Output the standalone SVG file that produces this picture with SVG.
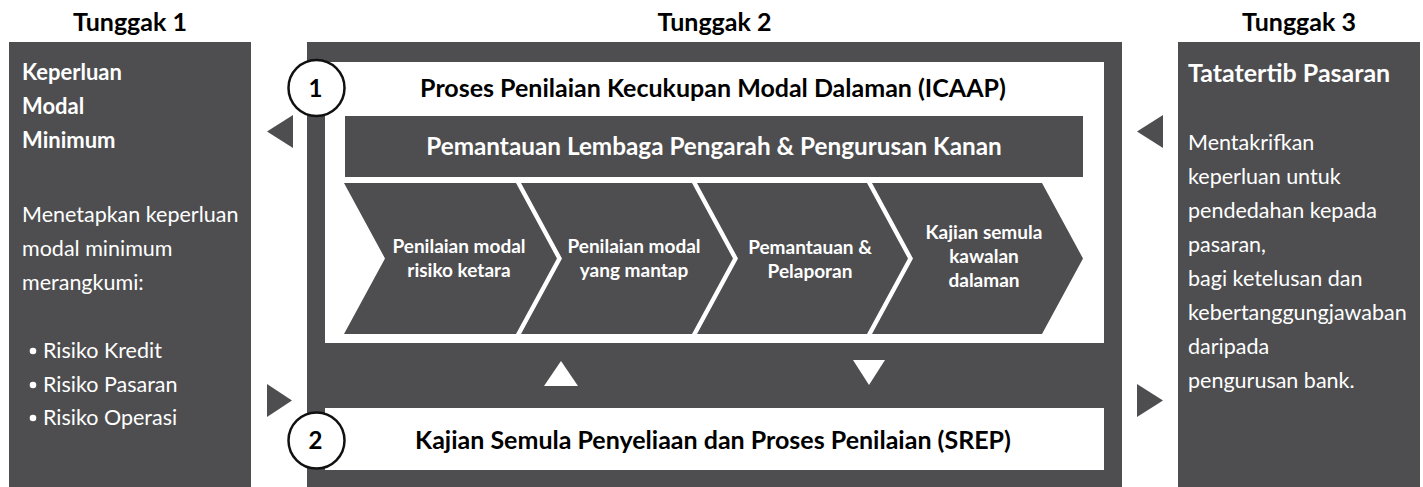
<svg xmlns="http://www.w3.org/2000/svg" width="1423" height="487" viewBox="0 0 1423 487">
  <defs>
    <style>
      .panel { fill: #4e4e50; }
      .box { fill: #ffffff; }
      .title { font-family: Lato, "Liberation Sans", sans-serif; font-weight: 700; font-size: 25px; fill: #000000; text-anchor: middle; }
      .head { font-family: Lato, "Liberation Sans", sans-serif; font-weight: 700; font-size: 22px; fill: #ffffff; }
      .head-wide { font-family: Lato, "Liberation Sans", sans-serif; font-weight: 700; font-size: 25px; fill: #ffffff; }
      .body { font-family: Lato, "Liberation Sans", sans-serif; font-weight: 400; font-size: 21.5px; fill: #ffffff; }
      .boxtitle { font-family: Lato, "Liberation Sans", sans-serif; font-weight: 700; font-size: 25px; fill: #000000; text-anchor: middle; }
      .bartitle { font-family: Lato, "Liberation Sans", sans-serif; font-weight: 700; font-size: 24.3px; fill: #ffffff; text-anchor: middle; }
      .chev { fill: #4e4e50; }
      .chevtext { font-family: Lato, "Liberation Sans", sans-serif; font-weight: 700; font-size: 19px; fill: #ffffff; text-anchor: middle; }
      .badge { fill: #ffffff; stroke: #111111; stroke-width: 2.5; }
      .badgenum { font-family: Lato, "Liberation Sans", sans-serif; font-weight: 700; font-size: 24px; fill: #000000; text-anchor: middle; }
      .arrow { fill: #4e4e50; }
      .arrow-light { fill: #ffffff; }
    </style>
  </defs>

  <rect width="1423" height="487" fill="#ffffff"/>

  <!-- Column headings -->
  <g id="headings">
    <text class="title" x="130" y="31">Tunggak 1</text>
    <text class="title" x="714.5" y="31">Tunggak 2</text>
    <text class="title" x="1299" y="31">Tunggak 3</text>
  </g>

  <!-- Pillar 1: minimum capital requirement -->
  <g id="pillar1">
    <rect class="panel" x="9" y="42" width="242" height="445"/>
    <text class="head" x="22" y="80">Keperluan</text>
    <text class="head" x="22" y="114">Modal</text>
    <text class="head" x="22" y="148">Minimum</text>
    <text class="body" x="22" y="222">Menetapkan keperluan</text>
    <text class="body" x="22" y="256">modal minimum</text>
    <text class="body" x="22" y="290">merangkumi:</text>
    <circle cx="33" cy="351" r="3.3" fill="#ffffff"/>
    <text class="body" x="43" y="358">Risiko Kredit</text>
    <circle cx="33" cy="385" r="3.3" fill="#ffffff"/>
    <text class="body" x="43" y="392">Risiko Pasaran</text>
    <circle cx="33" cy="418" r="3.3" fill="#ffffff"/>
    <text class="body" x="43" y="425">Risiko Operasi</text>
  </g>

  <!-- Pillar 2 frame -->
  <g id="pillar2">
    <rect class="panel" x="307" y="42" width="815" height="445"/>
  </g>

  <!-- ICAAP block -->
  <g id="icaap">
    <rect class="box" x="325" y="62" width="779" height="281"/>
    <text class="boxtitle" x="713" y="97">Proses Penilaian Kecukupan Modal Dalaman (ICAAP)</text>
  </g>

  <g id="oversight">
    <rect class="panel" x="345" y="116" width="738" height="61"/>
    <text class="bartitle" x="714" y="155">Pemantauan Lembaga Pengarah &amp; Pengurusan Kanan</text>
  </g>

  <!-- Process chevrons -->
  <g id="step1">
    <polygon class="chev" points="344,183 516,183 557,258.5 516,334 344,334 385,258.5"/>
    <text class="chevtext" x="459" y="253">Penilaian modal</text>
    <text class="chevtext" x="459" y="277">risiko ketara</text>
  </g>
  <g id="step2">
    <polygon class="chev" points="521,183 692,183 733,258.5 692,334 521,334 562,258.5"/>
    <text class="chevtext" x="634" y="253">Penilaian modal</text>
    <text class="chevtext" x="634" y="277">yang mantap</text>
  </g>
  <g id="step3">
    <polygon class="chev" points="697,183 867,183 908,258.5 867,334 697,334 738,258.5"/>
    <text class="chevtext" x="810" y="254">Pemantauan &amp;</text>
    <text class="chevtext" x="810" y="278">Pelaporan</text>
  </g>
  <g id="step4">
    <polygon class="chev" points="872,183 1042,183 1083,258.5 1042,334 872,334 913,258.5"/>
    <text class="chevtext" x="984" y="239">Kajian semula</text>
    <text class="chevtext" x="984" y="263">kawalan</text>
    <text class="chevtext" x="984" y="287">dalaman</text>
  </g>

  <!-- SREP block -->
  <g id="srep">
    <rect class="box" x="325" y="408" width="779" height="62"/>
    <text class="boxtitle" x="713" y="449">Kajian Semula Penyeliaan dan Proses Penilaian (SREP)</text>
  </g>

  <!-- Numbered badges -->
  <g id="badge1">
    <circle class="badge" cx="316.5" cy="88" r="28"/>
    <text class="badgenum" x="315.5" y="97">1</text>
  </g>
  <g id="badge2">
    <circle class="badge" cx="316.5" cy="440.5" r="28"/>
    <text class="badgenum" x="315.5" y="449">2</text>
  </g>

  <!-- Pillar 3: market discipline -->
  <g id="pillar3">
    <rect class="panel" x="1178" y="42" width="242" height="445"/>
    <text class="head-wide" x="1188" y="82">Tatatertib Pasaran</text>
    <text class="body" x="1188" y="150">Mentakrifkan</text>
    <text class="body" x="1188" y="184">keperluan untuk</text>
    <text class="body" x="1188" y="218">pendedahan kepada</text>
    <text class="body" x="1188" y="252">pasaran,</text>
    <text class="body" x="1188" y="286">bagi ketelusan dan</text>
    <text class="body" x="1188" y="320">kebertanggungjawaban</text>
    <text class="body" x="1188" y="354">daripada</text>
    <text class="body" x="1188" y="388">pengurusan bank.</text>
  </g>

  <!-- Flow arrowheads between the pillars and the two processes -->
  <g id="connectors">
    <polygon class="arrow" points="293,115 293,148 267,131.5"/>
    <polygon class="arrow" points="267,384 267,417 292,400.5"/>
    <polygon class="arrow" points="1163,115 1163,148 1137,131.5"/>
    <polygon class="arrow" points="1137,384 1137,417 1163,400.5"/>
    <polygon class="arrow-light" points="561,361 578,386 544,386"/>
    <polygon class="arrow-light" points="853,360 885,360 869,385"/>
  </g>
</svg>
